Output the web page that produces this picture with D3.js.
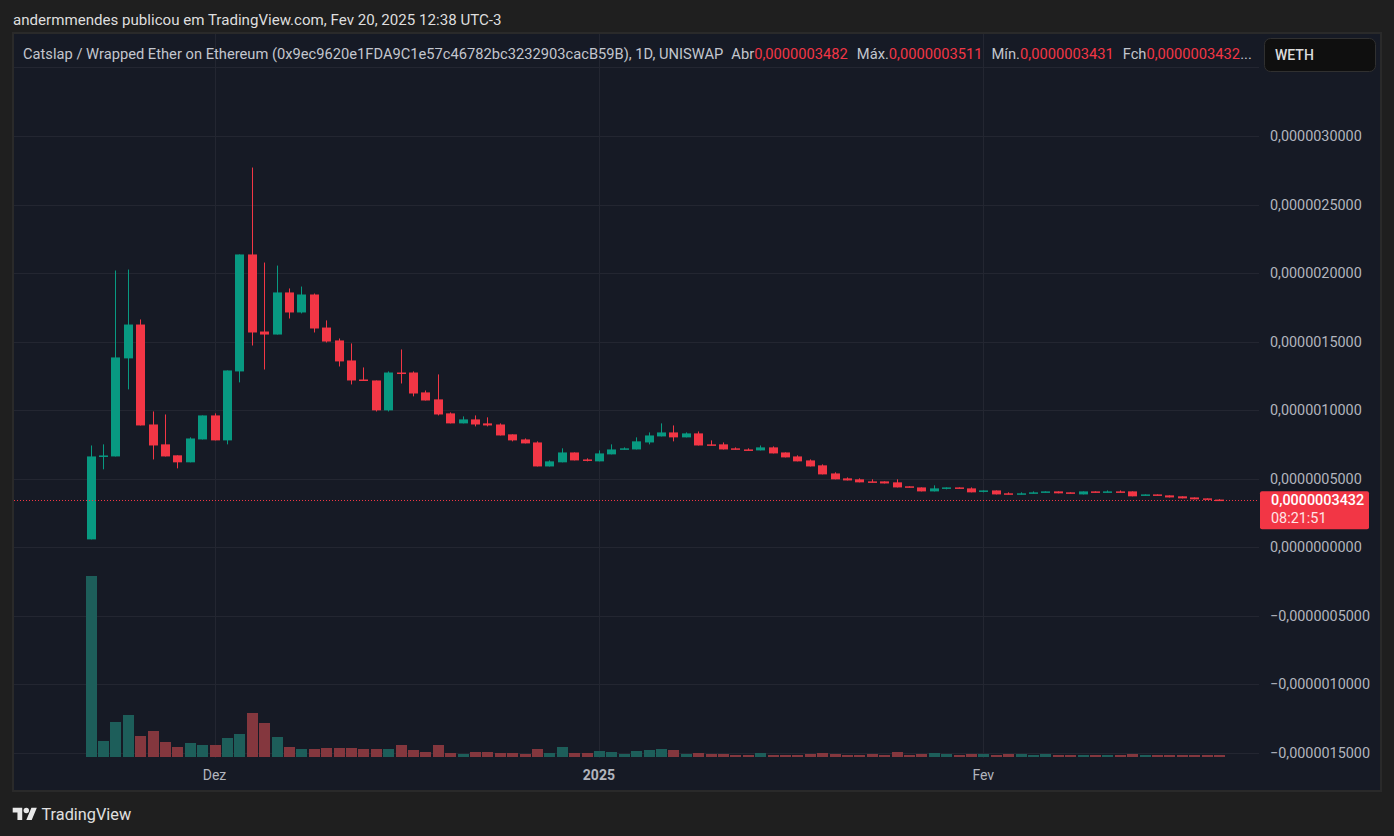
<!DOCTYPE html>
<html>
<head>
<meta charset="utf-8">
<script src="https://cdn.jsdelivr.net/npm/d3@7"></script>
<style>
  html, body { margin: 0; padding: 0; background: #1f1f1f; }
  svg { display: block; font-family: Roboto, "Open Sans", sans-serif; }
</style>
</head>
<body>
<svg id="chart" width="1394" height="836"></svg>
<script>
// prices are kept in units of 1e-7 WETH
var PRICE_UNIT = 1e-7;
var firstDay = "2024-11-21";
var lastDay = "2025-02-20";

var openP = [0.58, 6.60, 6.63, 13.78, 16.25, 8.96, 7.51, 6.71, 6.20, 7.87,
  9.62, 7.80, 12.83, 21.36, 15.74, 15.52, 18.59, 17.13, 18.44, 16.03,
  15.09, 13.63, 12.24, 12.17, 9.99, 12.75, 12.75, 11.30, 10.79, 9.77,
  9.04, 9.33, 9.04, 8.96, 8.24, 7.87, 7.65, 5.90, 6.20, 6.92,
  6.41, 6.27, 6.78, 7.14, 7.14, 7.65, 8.09, 8.38, 8.02, 8.31,
  7.51, 7.51, 7.22, 7.14, 7.07, 7.29, 6.92, 6.63, 6.34, 5.98,
  5.39, 5.03, 4.96, 4.81, 4.81, 4.74, 4.45, 4.37, 4.08, 4.30,
  4.37, 4.30, 4.08, 4.15, 3.94, 3.86, 3.94, 4.01, 4.08, 4.01,
  3.86, 4.08, 4.01, 4.08, 4.08, 3.79, 3.86, 3.79, 3.72, 3.64,
  3.57, 3.482];
var highP = [7.43, 7.51, 20.19, 20.26, 16.62, 9.91, 9.69, 6.71, 8.02, 9.62,
  9.77, 12.90, 21.36, 27.70, 20.77, 20.55, 18.88, 19.02, 18.51, 16.55,
  15.23, 14.87, 13.12, 12.17, 12.83, 14.43, 12.83, 11.44, 12.61, 9.84,
  9.55, 9.62, 9.48, 9.04, 8.24, 7.94, 7.73, 6.34, 7.22, 6.92,
  6.49, 7.07, 7.51, 7.29, 8.02, 8.38, 9.04, 8.89, 8.38, 8.45,
  7.80, 7.65, 7.29, 7.22, 7.43, 7.36, 6.92, 6.71, 6.41, 6.05,
  5.47, 5.10, 5.03, 4.96, 4.81, 4.96, 4.45, 4.37, 4.52, 4.37,
  4.37, 4.37, 4.15, 4.15, 4.01, 4.01, 4.08, 4.08, 4.08, 4.01,
  4.08, 4.08, 4.15, 4.15, 4.08, 3.86, 3.86, 3.79, 3.72, 3.64,
  3.57, 3.511];
var lowP = [0.58, 5.69, 6.63, 11.52, 8.89, 6.41, 6.63, 5.76, 6.20, 7.87,
  7.80, 7.51, 12.03, 14.72, 12.97, 15.52, 16.69, 17.06, 15.67, 14.94,
  13.19, 11.88, 12.17, 9.91, 9.91, 11.95, 11.01, 10.71, 9.62, 9.04,
  9.04, 8.82, 8.82, 8.16, 7.73, 7.58, 5.90, 5.90, 6.20, 6.34,
  6.27, 6.27, 6.78, 7.14, 7.14, 7.51, 8.09, 7.73, 8.02, 7.43,
  7.43, 7.14, 7.14, 7.07, 7.07, 6.85, 6.56, 6.27, 5.90, 5.32,
  4.96, 4.88, 4.74, 4.74, 4.66, 4.37, 4.37, 4.08, 4.08, 4.23,
  4.30, 4.01, 4.01, 3.86, 3.86, 3.86, 3.94, 4.01, 3.94, 3.94,
  3.86, 4.01, 4.01, 4.01, 3.72, 3.79, 3.79, 3.64, 3.57, 3.50,
  3.50, 3.431];
var closeP = [6.63, 6.70, 13.85, 16.25, 8.89, 7.43, 6.63, 6.20, 7.94, 9.62,
  7.80, 12.90, 21.36, 15.67, 15.52, 18.59, 17.13, 18.44, 15.96, 15.01,
  13.56, 12.17, 12.17, 9.99, 12.75, 12.68, 11.22, 10.71, 9.69, 9.04,
  9.33, 8.96, 8.89, 8.16, 7.80, 7.58, 5.90, 6.27, 6.92, 6.34,
  6.34, 6.85, 7.14, 7.22, 7.73, 8.16, 8.38, 8.02, 8.31, 7.43,
  7.43, 7.14, 7.14, 7.07, 7.29, 6.85, 6.56, 6.27, 5.90, 5.32,
  4.96, 4.88, 4.74, 4.74, 4.66, 4.37, 4.37, 4.08, 4.30, 4.37,
  4.30, 4.01, 4.15, 3.86, 3.86, 3.94, 4.01, 4.08, 3.94, 3.94,
  4.08, 4.01, 4.08, 4.01, 3.72, 3.86, 3.79, 3.64, 3.57, 3.50,
  3.50, 3.432];
// relative volume (no scale shown on the chart)
var volume = [181, 16, 35, 42, 21, 26, 15, 10, 14, 12,
  12, 19, 23, 44, 34, 20, 10, 8, 8, 9,
  9, 9, 8, 8, 8, 12, 7, 5, 12, 4,
  3, 5, 5, 4, 4, 3, 8, 4, 10, 4,
  4, 6, 5, 3, 6, 7, 8, 7, 3, 4,
  3, 3, 2, 2, 4, 2, 2, 2, 3, 4,
  3, 2, 2, 3, 2, 5, 2, 3, 4, 3,
  2, 3, 3, 2, 3, 3, 2, 3, 2, 2,
  2, 2, 2, 2, 3, 2, 2, 2, 2, 2,
  2, 2];

var priceTicks = [-15, -10, -5, 0, 5, 10, 15, 20, 25, 30, 35];
var monthTicks = ["2024-12-01", "2025-01-01", "2025-02-01"];
var monthLabels = ["Dez", "2025", "Fev"];
var monthBold = [false, true, false];

var headerText = "andermmendes publicou em TradingView.com, Fev 20, 2025 12:38 UTC-3";
var symbolText = "Catslap / Wrapped Ether on Ethereum (0x9ec9620e1FDA9C1e57c46782bc3232903cacB59B), 1D, UNISWAP";
var ohlcNames = ["Abr", "Máx.", "Mín.", "Fch"];
var countdown = "08:21:51";
var quoteName = "WETH";

var UP = "#089981", DOWN = "#f23645";
var UP_VOL = "#1d5e5a", DOWN_VOL = "#84373e";
var GRID = "#232631", TEXT = "#b2b5be";

var ptLocale = d3.formatLocale({decimal: ",", thousands: ".", grouping: [3], currency: ["", ""], minus: "\u2212"});
var fmtPrice = ptLocale.format(".10f");

drawChart();

function drawChart() {
  var svg = d3.select("#chart");
  var plot = {left: 14, right: 1259, top: 34, bottom: 758};

  var parseDay = d3.utcParse("%Y-%m-%d");
  var days = d3.utcDay.range(parseDay(firstDay), d3.utcDay.offset(parseDay(lastDay), 1));
  var data = days.map(function (d, i) {
    return {date: d, o: openP[i] * PRICE_UNIT, h: highP[i] * PRICE_UNIT,
      l: lowP[i] * PRICE_UNIT, c: closeP[i] * PRICE_UNIT, v: volume[i]};
  });

  var x = d3.scaleUtc().domain([days[0], days[days.length - 1]]).range([90.5, 1218.9]);
  var y = d3.scaleLinear().domain([-1.5e-6, 3e-6]).range([753, 136]);
  var yVol = d3.scaleLinear().domain([0, d3.max(volume)]).range([plot.bottom - 1, plot.bottom - 182]);

  // panel
  svg.append("rect")
    .attr("x", 13).attr("y", 33).attr("width", 1368).attr("height", 758)
    .attr("fill", "#161a25").attr("stroke", "#2a2a2a").attr("stroke-width", 2);

  svg.append("defs").append("clipPath").attr("id", "plotClip")
    .append("rect").attr("x", plot.left).attr("y", plot.top)
    .attr("width", plot.right - plot.left).attr("height", plot.bottom - plot.top);

  // grid
  var grid = svg.append("g");
  grid.selectAll(".hgrid").data(priceTicks).enter().append("line")
    .attr("x1", plot.left).attr("x2", plot.right)
    .attr("y1", function (d) { return Math.round(y(d * PRICE_UNIT)) + 0.5; })
    .attr("y2", function (d) { return Math.round(y(d * PRICE_UNIT)) + 0.5; })
    .attr("stroke", GRID).attr("stroke-width", 1);
  grid.selectAll(".vgrid").data(monthTicks).enter().append("line")
    .attr("x1", function (d) { return Math.round(x(parseDay(d))) + 0.5; })
    .attr("x2", function (d) { return Math.round(x(parseDay(d))) + 0.5; })
    .attr("y1", plot.top).attr("y2", plot.bottom)
    .attr("stroke", GRID).attr("stroke-width", 1);

  var g = svg.append("g").attr("clip-path", "url(#plotClip)");

  // volume
  g.selectAll(".vol").data(data).enter().append("rect")
    .attr("x", function (d) { return Math.round(x(d.date)) - 5; })
    .attr("width", 11)
    .attr("y", function (d) { return yVol(d.v); })
    .attr("height", function (d) { return yVol(0) - yVol(d.v); })
    .attr("fill", function (d) { return d.c >= d.o ? UP_VOL : DOWN_VOL; });

  // wicks
  g.selectAll(".wick").data(data).enter().append("line")
    .attr("x1", function (d) { return Math.round(x(d.date)) + 0.5; })
    .attr("x2", function (d) { return Math.round(x(d.date)) + 0.5; })
    .attr("y1", function (d) { return y(d.h); })
    .attr("y2", function (d) { return y(d.l); })
    .attr("stroke", function (d) { return d.c >= d.o ? UP : DOWN; })
    .attr("stroke-width", 1);

  // bodies
  g.selectAll(".body").data(data).enter().append("rect")
    .attr("x", function (d) { return Math.round(x(d.date)) - 4; })
    .attr("width", 9)
    .attr("y", function (d) { return y(Math.max(d.o, d.c)); })
    .attr("height", function (d) { return Math.max(1.5, Math.abs(y(d.o) - y(d.c))); })
    .attr("fill", function (d) { return d.c >= d.o ? UP : DOWN; });

  // last price line
  var last = data[data.length - 1];
  svg.append("line")
    .attr("x1", plot.left).attr("x2", plot.right)
    .attr("y1", Math.round(y(last.c)) + 0.5).attr("y2", Math.round(y(last.c)) + 0.5)
    .attr("stroke", DOWN).attr("stroke-width", 1).attr("stroke-dasharray", "1,2");

  // price scale labels
  svg.selectAll(".plabel").data(priceTicks.filter(function (d) { return d < 35; })).enter().append("text")
    .attr("x", 1270)
    .attr("y", function (d) { return y(d * PRICE_UNIT); })
    .attr("dy", "0.35em")
    .attr("fill", TEXT).attr("font-size", 14.4)
    .text(function (d) { return fmtPrice(d * PRICE_UNIT); });

  // last price tag
  var tagY = y(last.c);
  svg.append("rect")
    .attr("x", 1260).attr("y", tagY - 9).attr("width", 109).attr("height", 38)
    .attr("rx", 2).attr("fill", DOWN);
  svg.append("text").attr("x", 1271).attr("y", tagY).attr("dy", "0.35em")
    .attr("fill", "#ffffff").attr("font-size", 14.4).attr("font-weight", 500)
    .text(fmtPrice(last.c));
  svg.append("text").attr("x", 1271).attr("y", tagY + 18).attr("dy", "0.35em")
    .attr("fill", "#ffe4e6").attr("font-size", 14.4)
    .text(countdown);

  // time axis
  svg.selectAll(".tlabel").data(monthTicks).enter().append("text")
    .attr("x", function (d) { return x(parseDay(d)); })
    .attr("y", 775).attr("dy", "0.35em")
    .attr("text-anchor", "middle")
    .attr("fill", TEXT).attr("font-size", 14)
    .attr("font-weight", function (d, i) { return monthBold[i] ? 700 : 400; })
    .text(function (d, i) { return monthLabels[i]; });

  // header
  svg.append("text").attr("x", 13).attr("y", 20).attr("dy", "0.35em")
    .attr("fill", "#dedede").attr("font-size", 15.1)
    .text(headerText);

  // legend
  var legend = svg.append("text").attr("x", 23).attr("y", 54).attr("dy", "0.35em")
    .attr("font-size", 14.7);
  legend.append("tspan").attr("fill", "#c3c6ce").text(symbolText);
  var vals = [last.o, last.h, last.l, last.c];
  ohlcNames.forEach(function (name, i) {
    legend.append("tspan").attr("dx", 9).attr("fill", "#c3c6ce").text(name);
    legend.append("tspan").attr("fill", DOWN).text(fmtPrice(vals[i]));
  });
  legend.append("tspan").attr("fill", "#c3c6ce").text("...");

  // quote box
  svg.append("rect").attr("x", 1264.5).attr("y", 38.5).attr("width", 111).attr("height", 33)
    .attr("rx", 6).attr("fill", "#0f0f0f").attr("stroke", "#303030");
  svg.append("text").attr("x", 1275).attr("y", 55).attr("dy", "0.35em")
    .attr("fill", "#dcdcdc").attr("font-size", 14).attr("font-weight", 500)
    .text(quoteName);

  // TradingView logo
  var logo = svg.append("g").attr("transform", "translate(12.7,805) scale(0.68)").attr("fill", "#e8e8e8");
  logo.append("path").attr("d", "M14 22H7V11H0V4h14v18ZM28 22h-8l7.5-18h8L28 22Z");
  logo.append("circle").attr("cx", 20).attr("cy", 8).attr("r", 4);
  svg.append("text").attr("x", 41.5).attr("y", 814).attr("dy", "0.35em")
    .attr("fill", "#e0e0e0").attr("font-size", 16.3)
    .text("TradingView");
}
</script>
</body>
</html>
